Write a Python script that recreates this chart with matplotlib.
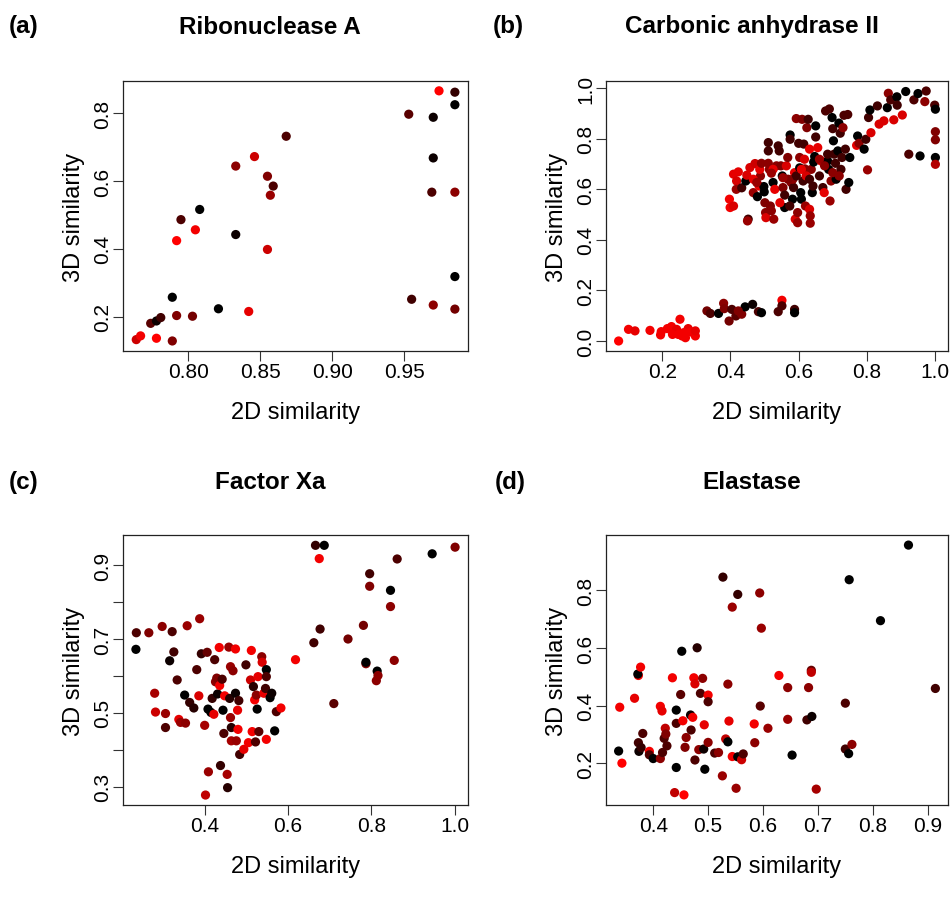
import matplotlib
matplotlib.use("Agg")
import matplotlib.pyplot as plt
from matplotlib.colors import LinearSegmentedColormap

# ── DATA ─────────────────────────────────────────────────────────────────────
# shade: 0 = black ... 1 = red (colour ramp used for the points)
a_x = [0.764, 0.767, 0.774, 0.778, 0.781, 0.778, 0.789, 0.792, 0.789, 0.803,
       0.821, 0.842, 0.792, 0.795, 0.805, 0.808, 0.833, 0.833, 0.846, 0.855,
       0.859, 0.857, 0.855, 0.868, 0.953, 0.974, 0.985, 0.985, 0.970, 0.970,
       0.969, 0.985, 0.985, 0.955, 0.970, 0.985]
a_y = [0.132, 0.143, 0.180, 0.187, 0.197, 0.136, 0.257, 0.203, 0.128, 0.201,
       0.223, 0.215, 0.424, 0.486, 0.456, 0.516, 0.442, 0.644, 0.672, 0.614,
       0.585, 0.558, 0.398, 0.732, 0.797, 0.866, 0.862, 0.825, 0.788, 0.668,
       0.567, 0.567, 0.318, 0.251, 0.234, 0.222]
a_s = [0.8, 0.95, 0.35, 0.05, 0.25, 1.0, 0.0, 0.5, 0.5, 0.45,
       0.0, 0.9, 1.0, 0.3, 0.95, 0.0, 0.05, 0.55, 0.8, 0.5,
       0.3, 0.6, 0.8, 0.3, 0.35, 1.0, 0.2, 0.0, 0.05, 0.05,
       0.3, 0.55, 0.0, 0.25, 0.55, 0.45]

b_x = [0.072, 0.101, 0.120, 0.164, 0.195, 0.197, 0.215, 0.227, 0.236, 0.242,
       0.252, 0.247, 0.258, 0.268, 0.276, 0.284, 0.297, 0.297, 0.263, 0.230,
       0.331, 0.341, 0.365, 0.380, 0.382, 0.396, 0.404, 0.416, 0.433, 0.443,
       0.465, 0.482, 0.491, 0.540, 0.551, 0.551, 0.588, 0.588, 0.423,
       0.397, 0.399, 0.409, 0.409, 0.423, 0.418, 0.417, 0.433, 0.445, 0.452,
       0.450, 0.448, 0.457, 0.472, 0.467, 0.479, 0.484, 0.488, 0.498, 0.499,
       0.501, 0.503, 0.504, 0.511, 0.511, 0.511, 0.514, 0.517, 0.525, 0.527,
       0.530, 0.535, 0.540, 0.543, 0.548, 0.552, 0.554, 0.559, 0.559, 0.564,
       0.568, 0.575, 0.575, 0.578, 0.582, 0.585, 0.588, 0.590, 0.593, 0.597,
       0.597, 0.600, 0.603, 0.603, 0.606, 0.608, 0.610, 0.613, 0.615, 0.618,
       0.620, 0.624, 0.628, 0.632, 0.632, 0.634, 0.634, 0.637, 0.640, 0.642,
       0.644, 0.647, 0.650, 0.650, 0.656, 0.661, 0.666, 0.671, 0.675, 0.679,
       0.685, 0.688, 0.690, 0.692, 0.695, 0.698, 0.700, 0.702, 0.704, 0.708,
       0.710, 0.715, 0.718, 0.722, 0.724, 0.727, 0.730, 0.733, 0.737, 0.739,
       0.744, 0.747, 0.750, 0.770, 0.773, 0.777, 0.792, 0.797, 0.802, 0.805,
       0.809, 0.812, 0.831, 0.836, 0.850, 0.860, 0.863, 0.870, 0.879, 0.888,
       0.889, 0.904, 0.914, 0.923, 0.938, 0.950, 0.956, 0.970, 0.974, 0.999,
       1.001, 1.001, 1.001, 1.001, 1.001,
       0.583, 0.593, 0.569, 0.554, 0.525, 0.486, 0.491, 0.520, 0.467, 0.477,
       0.608, 0.622, 0.617, 0.661, 0.676, 0.700, 0.685, 0.719, 0.632, 0.574,
       0.545, 0.520]
b_y = [0.000, 0.046, 0.040, 0.042, 0.024, 0.037, 0.049, 0.057, 0.033, 0.046,
       0.086, 0.026, 0.020, 0.013, 0.049, 0.036, 0.020, 0.040, 0.033, 0.026,
       0.119, 0.109, 0.109, 0.149, 0.128, 0.079, 0.125, 0.099, 0.106, 0.135,
       0.145, 0.116, 0.112, 0.116, 0.161, 0.139, 0.125, 0.112, 0.119,
       0.561, 0.528, 0.534, 0.660, 0.669, 0.633, 0.600, 0.606, 0.633, 0.482,
       0.475, 0.656, 0.686, 0.702, 0.587, 0.571, 0.613, 0.653, 0.611, 0.590,
       0.547, 0.508, 0.488, 0.703, 0.785, 0.752, 0.679, 0.534, 0.627, 0.482,
       0.600, 0.693, 0.772, 0.752, 0.693, 0.653, 0.607, 0.577, 0.528, 0.693,
       0.726, 0.815, 0.798, 0.627, 0.561, 0.607, 0.666, 0.482, 0.880, 0.468,
       0.508, 0.782, 0.726, 0.685, 0.587, 0.561, 0.877, 0.633, 0.779, 0.681,
       0.534, 0.844, 0.877, 0.759, 0.521, 0.495, 0.466, 0.679, 0.587, 0.613,
       0.708, 0.730, 0.807, 0.851, 0.765, 0.653, 0.712, 0.607, 0.587, 0.910,
       0.712, 0.679, 0.918, 0.554, 0.633, 0.884, 0.840, 0.792, 0.739, 0.703,
       0.640, 0.752, 0.862, 0.822, 0.679, 0.726, 0.844, 0.893, 0.759, 0.600,
       0.896, 0.627, 0.726, 0.774, 0.811, 0.782, 0.759, 0.798, 0.677, 0.884,
       0.914, 0.824, 0.930, 0.858, 0.871, 0.923, 0.980, 0.954, 0.875, 0.966,
       0.933, 0.894, 0.987, 0.739, 0.954, 0.979, 0.732, 0.947, 0.989, 0.933,
       0.917, 0.828, 0.796, 0.726, 0.699,
       0.640, 0.653, 0.640, 0.646, 0.679, 0.679, 0.703, 0.664, 0.640, 0.627,
       0.679, 0.653, 0.719, 0.719, 0.693, 0.666, 0.739, 0.653, 0.640, 0.534,
       0.547, 0.515]
b_s = [1.0, 0.95, 0.9, 0.95, 0.95, 0.95, 0.95, 0.95, 0.95, 0.9,
       0.95, 0.95, 0.95, 0.95, 0.9, 0.95, 0.95, 0.9, 0.95, 0.95,
       0.45, 0.3, 0.0, 0.55, 0.5, 0.45, 0.3, 0.35, 0.5, 0.0,
       0.05, 0.3, 0.0, 0.3, 0.95, 0.3, 0.25, 0.0, 0.5,
       0.95, 0.95, 0.85, 0.9, 0.9, 0.85, 0.6, 0.25, 0.0, 0.25,
       0.6, 0.85, 0.85, 0.8, 0.6, 0.0, 0.9, 0.55, 0.0, 0.0,
       0.5, 0.55, 0.85, 0.55, 0.25, 0.25, 0.55, 0.5, 0.0, 0.6,
       0.9, 0.55, 0.25, 0.25, 0.5, 0.0, 0.5, 0.25, 0.0, 0.85,
       0.5, 0.0, 0.25, 0.55, 0.0, 0.25, 0.9, 0.85, 0.55, 0.6,
       0.55, 0.25, 0.55, 0.0, 0.0, 0.0, 0.5, 0.25, 0.25, 0.55,
       0.6, 0.5, 0.25, 0.9, 0.85, 0.6, 0.6, 0.55, 0.0, 0.25,
       0.0, 0.0, 0.25, 0.0, 0.9, 0.25, 0.9, 0.25, 0.9, 0.3,
       0.0, 0.0, 0.3, 0.6, 0.55, 0.0, 0.25, 0.0, 0.25, 0.25,
       0.0, 0.0, 0.0, 0.25, 0.25, 0.25, 0.55, 0.3, 0.25, 0.25,
       0.3, 0.0, 0.0, 0.9, 0.0, 0.55, 0.0, 0.25, 0.6, 0.25,
       0.0, 0.85, 0.25, 0.85, 0.85, 0.0, 0.55, 0.3, 0.85, 0.0,
       0.25, 0.85, 0.0, 0.3, 0.3, 0.0, 0.0, 0.55, 0.3, 0.3,
       0.0, 0.5, 0.5, 0.0, 0.7,
       0.55, 0.25, 0.5, 0.6, 0.9, 0.9, 0.55, 0.6, 0.9, 0.6,
       0.9, 0.85, 0.85, 0.6, 0.55, 0.55, 0.25, 0.55, 0.25, 0.25,
       0.9, 0.55]

c_x = [0.236, 0.235, 0.266, 0.298, 0.322, 0.358, 0.388, 0.280, 0.282, 0.306,
       0.306, 0.316, 0.326, 0.334, 0.338, 0.342, 0.354, 0.352, 0.364, 0.374,
       0.381, 0.386, 0.392, 0.406, 0.400, 0.409, 0.402, 0.408, 0.415, 0.418,
       0.422, 0.424, 0.426, 0.429, 0.431, 0.435, 0.436, 0.438, 0.442, 0.444,
       0.446, 0.448, 0.454, 0.455, 0.458, 0.460, 0.462, 0.462, 0.464, 0.464,
       0.468, 0.474, 0.474, 0.476, 0.479, 0.480, 0.482, 0.484, 0.494, 0.499,
       0.505, 0.510, 0.512, 0.514, 0.517, 0.520, 0.522, 0.524, 0.526, 0.528,
       0.530, 0.537, 0.538, 0.542, 0.546, 0.548, 0.548, 0.548, 0.557, 0.561,
       0.568, 0.572, 0.583, 0.618, 0.662, 0.666, 0.687, 0.675, 0.677, 0.710,
       0.744, 0.781, 0.787, 0.787, 0.796, 0.796, 0.814, 0.816, 0.812, 0.846,
       0.846, 0.855, 0.862, 0.946, 1.001]
c_y = [0.717, 0.672, 0.717, 0.734, 0.720, 0.736, 0.755, 0.553, 0.502, 0.498,
       0.460, 0.641, 0.665, 0.589, 0.482, 0.474, 0.472, 0.548, 0.528, 0.513,
       0.617, 0.546, 0.660, 0.664, 0.466, 0.340, 0.277, 0.510, 0.501, 0.539,
       0.496, 0.644, 0.584, 0.594, 0.551, 0.677, 0.574, 0.357, 0.591, 0.507,
       0.444, 0.546, 0.333, 0.297, 0.678, 0.539, 0.487, 0.625, 0.460, 0.424,
       0.614, 0.673, 0.553, 0.424, 0.507, 0.455, 0.533, 0.387, 0.401, 0.630,
       0.419, 0.589, 0.669, 0.449, 0.571, 0.535, 0.421, 0.548, 0.510, 0.598,
       0.449, 0.652, 0.637, 0.553, 0.566, 0.617, 0.598, 0.428, 0.541, 0.553,
       0.451, 0.503, 0.513, 0.644, 0.690, 0.954, 0.954, 0.918, 0.727, 0.525,
       0.700, 0.737, 0.633, 0.637, 0.877, 0.843, 0.613, 0.601, 0.587, 0.832,
       0.788, 0.642, 0.917, 0.931, 0.949]
c_s = [0.3, 0.0, 0.5, 0.55, 0.3, 0.6, 0.6, 0.65, 0.8, 0.6,
       0.3, 0.05, 0.25, 0.3, 0.9, 0.6, 0.55, 0.0, 0.2, 0.15,
       0.3, 0.85, 0.2, 0.4, 0.65, 0.6, 0.75, 0.0, 0.0, 0.2,
       0.9, 0.3, 0.55, 0.5, 0.05, 0.95, 0.95, 0.2, 0.3, 0.0,
       0.3, 0.95, 0.65, 0.15, 0.6, 0.15, 0.6, 0.6, 0.15, 0.65,
       0.55, 0.95, 0.05, 0.6, 0.9, 0.95, 0.25, 0.25, 0.9, 0.25,
       0.95, 0.8, 0.95, 0.95, 0.15, 0.95, 0.3, 0.55, 0.0, 0.9,
       0.35, 0.55, 0.85, 0.9, 0.25, 0.0, 0.3, 0.95, 0.0, 0.05,
       0.0, 0.3, 0.95, 0.95, 0.25, 0.2, 0.0, 0.95, 0.25, 0.35,
       0.45, 0.45, 0.5, 0.0, 0.25, 0.5, 0.0, 0.55, 0.55, 0.0,
       0.55, 0.55, 0.3, 0.0, 0.5]

d_x = [0.337, 0.339, 0.343, 0.366, 0.373, 0.372, 0.377, 0.373, 0.374, 0.378,
       0.381, 0.393, 0.393, 0.400, 0.413, 0.416, 0.413, 0.417, 0.420, 0.422,
       0.423, 0.425, 0.435, 0.439, 0.442, 0.442, 0.442, 0.450, 0.452, 0.454,
       0.456, 0.460, 0.458, 0.468, 0.469, 0.472, 0.474, 0.476, 0.476, 0.480,
       0.483, 0.486, 0.490, 0.492, 0.493, 0.494, 0.500, 0.500, 0.500, 0.512,
       0.519, 0.526, 0.527, 0.532, 0.536, 0.536, 0.538, 0.544, 0.544, 0.551,
       0.554, 0.554, 0.561, 0.564, 0.584, 0.585, 0.594, 0.595, 0.597, 0.609,
       0.629, 0.645, 0.645, 0.653, 0.680, 0.683, 0.688, 0.688, 0.689, 0.697,
       0.750, 0.750, 0.756, 0.757, 0.762, 0.814, 0.865, 0.914]
d_y = [0.243, 0.395, 0.201, 0.426, 0.505, 0.510, 0.534, 0.272, 0.242, 0.255,
       0.304, 0.242, 0.230, 0.217, 0.398, 0.382, 0.217, 0.238, 0.287, 0.322,
       0.302, 0.261, 0.497, 0.099, 0.385, 0.339, 0.186, 0.439, 0.589, 0.348,
       0.091, 0.290, 0.256, 0.368, 0.316, 0.360, 0.497, 0.476, 0.212, 0.601,
       0.248, 0.443, 0.495, 0.250, 0.334, 0.180, 0.437, 0.414, 0.273, 0.236,
       0.238, 0.157, 0.846, 0.285, 0.475, 0.275, 0.347, 0.742, 0.224, 0.114,
       0.223, 0.786, 0.213, 0.233, 0.337, 0.272, 0.791, 0.399, 0.669, 0.322,
       0.505, 0.463, 0.353, 0.229, 0.351, 0.463, 0.523, 0.516, 0.363, 0.111,
       0.409, 0.250, 0.234, 0.837, 0.266, 0.695, 0.957, 0.460]
d_s = [0.0, 0.95, 1.0, 0.9, 0.95, 0.0, 0.95, 0.25, 0.05, 0.2,
       0.3, 0.95, 0.3, 0.0, 0.95, 0.9, 0.55, 0.3, 0.3, 0.75,
       0.5, 0.3, 0.95, 0.75, 0.0, 0.3, 0.0, 0.35, 0.0, 0.95,
       1.0, 0.55, 0.5, 0.05, 0.3, 0.95, 0.95, 0.85, 0.3, 0.15,
       0.55, 0.3, 0.55, 0.05, 0.9, 0.0, 0.95, 0.3, 0.55, 0.3,
       0.55, 0.6, 0.2, 0.75, 0.55, 0.0, 0.9, 0.6, 0.95, 0.6,
       0.0, 0.2, 0.8, 0.3, 0.95, 0.55, 0.55, 0.35, 0.6, 0.6,
       0.95, 0.55, 0.6, 0.0, 0.25, 0.55, 0.4, 0.75, 0.05, 0.65,
       0.3, 0.25, 0.0, 0.0, 0.55, 0.0, 0.0, 0.25]

titles = ["Ribonuclease A", "Carbonic anhydrase II", "Factor Xa", "Elastase"]
tags = ["(a)", "(b)", "(c)", "(d)"]

# ── STYLE ────────────────────────────────────────────────────────────────────
plt.rcParams["font.family"] = ["Liberation Sans", "DejaVu Sans"]
ramp = LinearSegmentedColormap.from_list("blackred", ["#000000", "#ff0000"])

W, H = 951, 904
fig = plt.figure(figsize=(W / 100, H / 100), dpi=100)

def box(l, t, r, b):
    # pixel box -> figure fraction
    return [l / W, 1 - b / H, (r - l) / W, (b - t) / H]

panels = [
    dict(x=a_x, y=a_y, s=a_s, pos=box(123, 82, 468, 352),
         xlim=(0.7548, 0.9941), ylim=(0.0984, 0.8950),
         xt=[0.80, 0.85, 0.90, 0.95], xl=["0.80", "0.85", "0.90", "0.95"],
         yt=[0.2, 0.4, 0.6, 0.8], yl=["0.2", "0.4", "0.6", "0.8"]),
    dict(x=b_x, y=b_y, s=b_s, pos=box(606, 82, 948, 352),
         xlim=(0.035, 1.038), ylim=(-0.0396, 1.0286),
         xt=[0.2, 0.4, 0.6, 0.8, 1.0], xl=["0.2", "0.4", "0.6", "0.8", "1.0"],
         yt=[0.0, 0.2, 0.4, 0.6, 0.8, 1.0],
         yl=["0.0", "0.2", "0.4", "0.6", "0.8", "1.0"]),
    dict(x=c_x, y=c_y, s=c_s, pos=box(123, 536, 468, 806),
         xlim=(0.204, 1.032), ylim=(0.250, 0.982),
         xt=[0.4, 0.6, 0.8, 1.0], xl=["0.4", "0.6", "0.8", "1.0"],
         yt=[0.3, 0.4, 0.5, 0.6, 0.7, 0.8, 0.9],
         yl=["0.3", "", "0.5", "", "0.7", "", "0.9"]),
    dict(x=d_x, y=d_y, s=d_s, pos=box(606, 536, 948, 806),
         xlim=(0.314, 0.937), ylim=(0.056, 0.992),
         xt=[0.4, 0.5, 0.6, 0.7, 0.8, 0.9],
         xl=["0.4", "0.5", "0.6", "0.7", "0.8", "0.9"],
         yt=[0.2, 0.4, 0.6, 0.8], yl=["0.2", "0.4", "0.6", "0.8"]),
]

title_cx = [270, 752, 270, 752]
title_cy = [27, 27, 483, 483]
tag_x = [9, 493, 9, 495]

for i, p in enumerate(panels):
    ax = fig.add_axes(p["pos"])
    ax.scatter(p["x"], p["y"], c=p["s"], cmap=ramp, vmin=0, vmax=1,
               s=44, linewidths=0)
    ax.set_xlim(*p["xlim"])
    ax.set_ylim(*p["ylim"])
    ax.set_xticks(p["xt"])
    ax.set_xticklabels(p["xl"])
    ax.set_yticks(p["yt"])
    ax.set_yticklabels(p["yl"], rotation=90, va="center")
    ax.tick_params(direction="out", length=7, width=0.8, labelsize=15,
                   color="#333333")
    ax.tick_params(axis="x", pad=1)
    ax.tick_params(axis="y", pad=1)
    for sp in ax.spines.values():
        sp.set_linewidth(0.9)
        sp.set_color("#222222")
    ax.set_xlabel("2D similarity", fontsize=17, labelpad=14)
    ax.set_ylabel("3D similarity", fontsize=17, labelpad=6)

    fig.text(title_cx[i] / W, 1 - title_cy[i] / H, titles[i],
             ha="center", va="center", fontsize=17.5, fontweight="bold")
    fig.text(tag_x[i] / W, 1 - title_cy[i] / H, tags[i],
             ha="left", va="center", fontsize=17.5, fontweight="bold")

fig.savefig("out.png", dpi=100)
